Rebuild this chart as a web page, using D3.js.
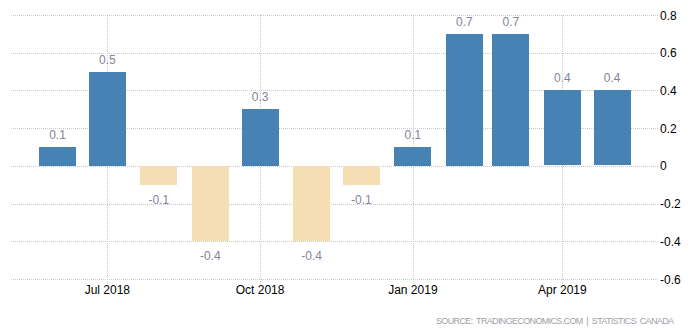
<!DOCTYPE html>
<html>
<head>
<meta charset="utf-8">
<script src="https://cdnjs.cloudflare.com/ajax/libs/d3/7.8.5/d3.min.js"></script>
<style>
  html, body { margin: 0; padding: 0; background: #fff; }
  svg { display: block; font-family: "Liberation Sans", Arial, sans-serif; }
</style>
</head>
<body>
<div id="chart"></div>
<script>
(function () {
    // monthly change, Jun 2018 - May 2019
    var months = ["2018-06", "2018-07", "2018-08", "2018-09", "2018-10", "2018-11",
                  "2018-12", "2019-01", "2019-02", "2019-03", "2019-04", "2019-05"];
    var values = [0.1, 0.5, -0.1, -0.4, 0.3, -0.4, -0.1, 0.1, 0.7, 0.7, 0.4, 0.4];
    var yTicks = [-0.6, -0.4, -0.2, 0, 0.2, 0.4, 0.6, 0.8];
    var xTicks = ["2018-07", "2018-10", "2019-01", "2019-04"];
    var source = "SOURCE:  TRADINGECONOMICS.COM  |  STATISTICS  CANADA";

    var W = 697, H = 332;
    var parse = d3.timeParse("%Y-%m");
    var dates = months.map(parse);

    // plain hyphen for negatives
    var num = d3.formatLocale({ decimal: ".", thousands: ",", grouping: [3], currency: ["", ""], minus: "-" }).format(".1f");

    var svg = d3.select("#chart")
        .append("svg")
        .attr("width", W)
        .attr("height", H);

    var x = d3.scaleTime()
        .domain([d3.timeDay.offset(dates[0], -28), d3.timeDay.offset(dates[dates.length - 1], 27)])
        .range([11, 657]);

    var y = d3.scaleLinear()
        .domain([-0.6, 0.8])
        .range([279, 15]);

    var barW = 37;

    // horizontal grid
    svg.append("g")
        .selectAll("line")
        .data(yTicks)
        .join("line")
        .attr("x1", 11)
        .attr("x2", 658)
        .attr("y1", d => Math.round(y(d)) + 0.5)
        .attr("y2", d => Math.round(y(d)) + 0.5)
        .attr("stroke", "#c8c8c8")
        .attr("stroke-dasharray", "1,1");

    // vertical grid at quarter marks
    svg.append("g")
        .selectAll("line")
        .data(xTicks.map(parse))
        .join("line")
        .attr("x1", d => Math.round(x(d)) + 0.5)
        .attr("x2", d => Math.round(x(d)) + 0.5)
        .attr("y1", y(0.8))
        .attr("y2", y(-0.6) + 5)
        .attr("stroke", "#c8c8c8")
        .attr("stroke-dasharray", "1,1");

    // bars
    svg.append("g")
        .selectAll("rect")
        .data(values)
        .join("rect")
        .attr("x", (d, i) => Math.round(x(dates[i]) - barW / 2))
        .attr("width", barW)
        .attr("y", d => Math.round(y(Math.max(0, d))))
        .attr("height", d => Math.round(Math.abs(y(d) - y(0))))
        .attr("fill", d => d >= 0 ? "#4682b4" : "#f5deb3");

    // value labels
    svg.append("g")
        .selectAll("text")
        .data(values)
        .join("text")
        .attr("x", (d, i) => x(dates[i]))
        .attr("y", d => d >= 0 ? y(d) - 8 : y(d) + 19)
        .attr("text-anchor", "middle")
        .attr("font-size", 12)
        .attr("fill", "#84849a")
        .text(d => num(d));

    // y axis labels on the right
    svg.append("g")
        .selectAll("text")
        .data(yTicks)
        .join("text")
        .attr("x", 660)
        .attr("y", d => y(d) + 4.5)
        .attr("font-size", 12)
        .attr("fill", "#000")
        .text(d => d === 0 ? "0" : num(d));

    // x axis labels
    var fmt = d3.timeFormat("%b %Y");
    svg.append("g")
        .selectAll("text")
        .data(xTicks.map(parse))
        .join("text")
        .attr("x", d => x(d))
        .attr("y", 294)
        .attr("text-anchor", "middle")
        .attr("font-size", 12)
        .attr("fill", "#000")
        .text(d => fmt(d));

    svg.append("text")
        .attr("x", 436)
        .attr("y", 324)
        .attr("font-size", 9)
        .attr("fill", "#a0a0a8")
        .style("white-space", "pre")
        .attr("textLength", 238)
        .attr("lengthAdjust", "spacing")
        .text(source);
}())
</script>
</body>
</html>
